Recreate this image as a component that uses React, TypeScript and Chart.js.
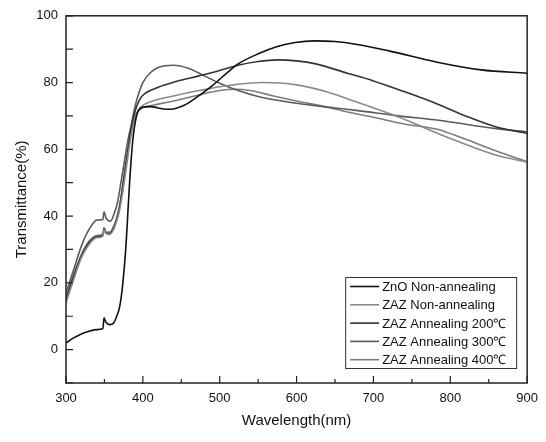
import React, { useEffect, useRef } from 'react';
import { Chart, registerables } from 'chart.js';
Chart.register(...registerables);

const seriesLabels = [
  'ZnO Non-annealing',
  'ZAZ Non-annealing',
  'ZAZ Annealing 200\u2103',
  'ZAZ Annealing 300\u2103',
  'ZAZ Annealing 400\u2103',
];
const seriesColors = ['#111111', '#8a8a8a', '#333333', '#5a5a5a', '#7c7c7c'];

const znoX = [300, 310, 320, 330, 340, 348, 349.5, 352, 357, 362, 366, 370, 374, 378, 380, 383, 387, 390, 393, 400, 410, 420, 430, 440, 450, 460, 475, 490, 500, 511, 524, 550, 575, 598, 623, 650, 679, 720, 783, 840, 900];
const znoY = [2, 3.5, 4.7, 5.5, 6, 6.3, 9.5, 8.2, 7.5, 8, 10, 13, 20, 31, 39, 51, 63, 68, 71, 72.6, 72.8, 72.4, 72, 72.1, 72.8, 74, 76.4, 79, 81, 83.2, 85.6, 88.6, 90.8, 92, 92.5, 92.3, 91.4, 89.5, 86.1, 83.8, 82.8];

const zazNonX = [300, 310, 320, 330, 340, 348, 349.5, 352, 357, 362, 366, 370, 375, 380, 385, 390, 395, 400, 408, 440, 473, 511, 555, 600, 640, 679, 731, 795, 860, 900];
const zazNonY = [14, 21, 27.5, 31.5, 33.5, 34, 36, 34.8, 34.5, 36, 38.5, 42, 49, 57, 64.5, 69.5, 72, 73.2, 74.1, 76, 77.6, 79.1, 80, 79.3, 77.2, 74.1, 69.8, 63.7, 58.2, 56.2];

const zaz200X = [300, 310, 320, 330, 340, 348, 349.5, 352, 357, 362, 366, 370, 375, 380, 385, 390, 395, 400, 420, 443, 473, 500, 524, 550, 575, 600, 625, 666, 700, 740, 783, 820, 860, 900];
const zaz200Y = [15, 22, 28, 32, 33.8, 34.3, 36.3, 35, 34.8, 36.5, 39, 43, 51, 59, 66.5, 71.5, 74.5, 76.2, 78.6, 80.3, 82, 83.6, 85.2, 86.3, 86.8, 86.5, 85.6, 82.8, 80.5, 77.3, 73.6, 70, 66.7, 64.8];

const zaz300X = [300, 310, 320, 330, 340, 348, 349.5, 352, 358, 363, 367, 370, 375, 380, 385, 390, 395, 400, 410, 420, 440, 460, 480, 500, 524, 550, 600, 650, 680, 730, 785, 860, 900];
const zaz300Y = [17, 24, 31, 36, 38.8, 39, 41.3, 39.5, 38.5, 41, 44, 48, 55, 62, 67.5, 73, 77, 80, 83, 84.5, 85.2, 84.2, 82, 79.8, 77.6, 75.8, 73.8, 72.4, 71.6, 70.1, 68.7, 66.2, 65.2];

const zaz400X = [300, 310, 320, 330, 340, 348, 349.5, 352, 357, 362, 366, 370, 375, 380, 385, 390, 395, 400, 413, 440, 473, 500, 520, 540, 570, 600, 640, 666, 700, 740, 783, 820, 860, 900];
const zaz400Y = [15.5, 22.5, 28.5, 32.5, 34.2, 34.6, 36.6, 35.3, 35.2, 37, 39.5, 43.5, 51, 58.5, 65.5, 70, 71.7, 72.5, 73.2, 74.5, 76.3, 77.6, 78, 77.6, 76, 74.5, 72.6, 71.2, 69.6, 67.6, 66, 63, 59.5, 56.3];

const xMajorTicks = [300, 400, 500, 600, 700, 800, 900];
const xMinorTicks = [350, 450, 550, 650, 750, 850];
const yMajorTicks = [0, 20, 40, 60, 80, 100];
const yMinorTicks = [-10, 10, 30, 50, 70, 90];

const FONT = "'Liberation Sans', Arial, sans-serif";

const toPoints = (xs: number[], ys: number[]) => xs.map((x, i) => ({ x, y: ys[i] }));

const framePlugin = {
  id: 'frame',
  afterDatasetsDraw(chart: any) {
    const { ctx, chartArea: a, scales } = chart;
    ctx.save();
    ctx.strokeStyle = '#222';
    ctx.lineWidth = 1.5;
    ctx.strokeRect(a.left, a.top, a.right - a.left, a.bottom - a.top);
    ctx.lineWidth = 1.2;
    ctx.beginPath();
    const tick = (vals: number[], len: number) => {
      vals.forEach((v) => {
        const px = scales.x.getPixelForValue(v);
        ctx.moveTo(px, a.bottom);
        ctx.lineTo(px, a.bottom - len);
      });
    };
    tick(xMajorTicks, 7);
    tick(xMinorTicks, 4);
    const ytick = (vals: number[], len: number) => {
      vals.forEach((v) => {
        const py = scales.y.getPixelForValue(v);
        ctx.moveTo(a.left, py);
        ctx.lineTo(a.left + len, py);
      });
    };
    ytick(yMajorTicks, 7);
    ytick(yMinorTicks, 7);
    ctx.stroke();
    ctx.restore();
  },
};

const legendPlugin = {
  id: 'boxLegend',
  afterDraw(chart: any) {
    const { ctx, chartArea: a } = chart;
    const w = 171;
    const h = 91;
    const right = a.right - 11;
    const bottom = a.bottom - 15;
    const left = right - w;
    const top = bottom - h;
    ctx.save();
    ctx.fillStyle = '#fff';
    ctx.fillRect(left, top, w, h);
    ctx.strokeStyle = '#333';
    ctx.lineWidth = 1;
    ctx.strokeRect(left + 0.5, top + 0.5, w, h);
    ctx.font = `13px ${FONT}`;
    ctx.textBaseline = 'middle';
    chart.data.datasets.forEach((ds: any, i: number) => {
      const y = top + 9.5 + i * 18.3;
      ctx.strokeStyle = ds.borderColor;
      ctx.lineWidth = 1.6;
      ctx.beginPath();
      ctx.moveTo(left + 5, y);
      ctx.lineTo(left + 34, y);
      ctx.stroke();
      ctx.fillStyle = '#111';
      ctx.fillText(ds.label, left + 37, y + 1);
    });
    ctx.restore();
  },
};

export default function App() {
  const ref = useRef<HTMLCanvasElement>(null);
  useEffect(() => {
    document.body.style.margin = '0';
    const xs = [znoX, zazNonX, zaz200X, zaz300X, zaz400X];
    const ys = [znoY, zazNonY, zaz200Y, zaz300Y, zaz400Y];
    const chart = new Chart(ref.current as HTMLCanvasElement, {
      type: 'line',
      data: {
        datasets: seriesLabels.map((label, i) => ({
          label,
          data: toPoints(xs[i], ys[i]),
          borderColor: seriesColors[i],
          backgroundColor: seriesColors[i],
          borderWidth: 1.6,
          pointRadius: 0,
          fill: false,
          cubicInterpolationMode: 'monotone' as const,
        })),
      },
      options: {
        animation: false,
        responsive: false,
        layout: { padding: { top: 14, right: 18, left: 0, bottom: 0 } },
        plugins: { legend: { display: false }, tooltip: { enabled: false } },
        scales: {
          x: {
            type: 'linear',
            min: 300,
            max: 900,
            afterBuildTicks: (s: any) => {
              s.ticks = xMajorTicks.map((v) => ({ value: v }));
            },
            afterFit: (s: any) => {
              s.height = 59;
            },
            grid: { display: false, drawTicks: false },
            border: { display: false },
            ticks: { font: { family: FONT, size: 13 }, color: '#111', padding: 8, maxRotation: 0 },
            title: {
              display: true,
              text: 'Wavelength(nm)',
              font: { family: FONT, size: 15 },
              color: '#111',
              padding: { top: 0, bottom: 12 },
            },
          },
          y: {
            type: 'linear',
            min: -10,
            max: 100,
            afterBuildTicks: (s: any) => {
              s.ticks = yMajorTicks.map((v) => ({ value: v }));
            },
            afterFit: (s: any) => {
              s.width = 66;
            },
            grid: { display: false, drawTicks: false },
            border: { display: false },
            ticks: { font: { family: FONT, size: 13 }, color: '#111', padding: 8 },
            title: {
              display: true,
              text: 'Transmittance(%)',
              font: { family: FONT, size: 15 },
              color: '#111',
              padding: { top: 13, bottom: 0 },
            },
          },
        },
      },
      plugins: [framePlugin, legendPlugin],
    } as any);
    return () => chart.destroy();
  }, []);
  return (
    <div style={{ width: 546, height: 442 }}>
      <canvas ref={ref} width={546} height={442} style={{ display: 'block' }} />
    </div>
  );
}
